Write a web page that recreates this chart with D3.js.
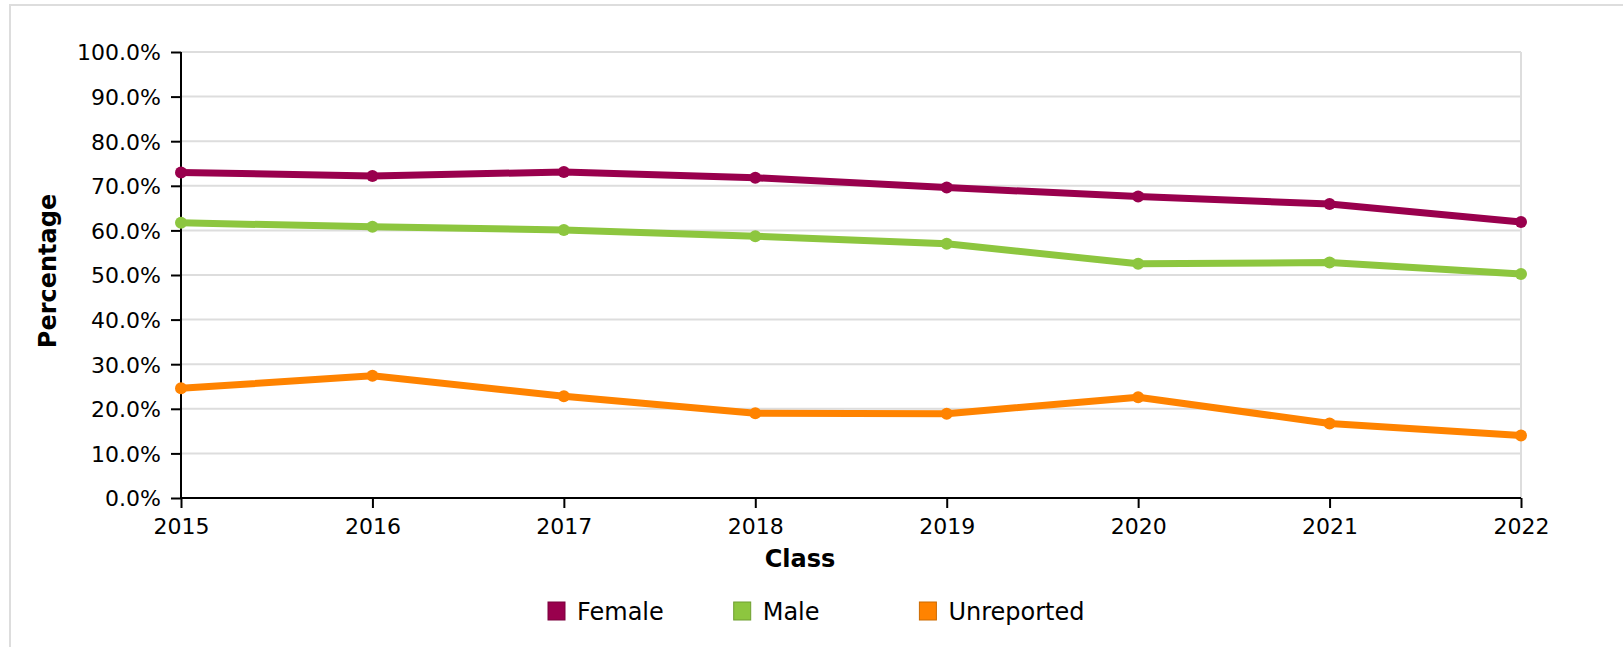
<!DOCTYPE html>
<html>
<head>
<meta charset="utf-8">
<script src="https://cdn.jsdelivr.net/npm/d3@7"></script>
<style>
  body { margin: 0; background: #fff; overflow: hidden; }
  #frame { position: absolute; left: 9px; top: 4px; width: 1650px; height: 700px;
           border: 2px solid #dddddd; box-sizing: border-box; }
  #chart { position: absolute; left: 0; top: 0; }
  text { font-family: "DejaVu Sans", sans-serif; }
</style>
</head>
<body>
<div id="frame"></div>
<div id="chart"></div>
<script>
// chart data
var years = [2015, 2016, 2017, 2018, 2019, 2020, 2021, 2022];
var female = [73.0, 72.2, 73.1, 71.8, 69.6, 67.6, 65.9, 61.9];
var male = [61.7, 60.8, 60.1, 58.7, 57.0, 52.5, 52.8, 50.2];
var unreported = [24.6, 27.4, 22.8, 19.0, 18.9, 22.6, 16.7, 14.0];
var yTicks = [0, 10, 20, 30, 40, 50, 60, 70, 80, 90, 100];

var series = [
  {name: "Female", values: female, color: "#99004d", border: "#7a003d"},
  {name: "Male", values: male, color: "#8dc63f", border: "#6f9f30"},
  {name: "Unreported", values: unreported, color: "#ff8300", border: "#cc6a00"}
];

var margin = {top: 52, left: 181},
    width = 1340,
    height = 446;

var svg = d3.select("#chart")
  .append("svg")
    .attr("width", 1623)
    .attr("height", 647);

var g = svg.append("g")
    .attr("transform", "translate(" + margin.left + "," + margin.top + ")");

var x = d3.scaleLinear()
    .domain([2015, 2022])
    .range([0, width]);

var y = d3.scaleLinear()
    .domain([0, 100])
    .range([height, 0]);

// gridlines
g.selectAll(".grid")
  .data(yTicks.slice(1))
  .enter().append("line")
    .attr("x1", 0)
    .attr("x2", width)
    .attr("y1", function(d) { return y(d); })
    .attr("y2", function(d) { return y(d); })
    .style("stroke", "#dddddd")
    .style("stroke-width", 2);

// right edge line
g.append("line")
    .attr("x1", width).attr("x2", width)
    .attr("y1", 0).attr("y2", height)
    .style("stroke", "#dddddd")
    .style("stroke-width", 2);

// Y axis
var yAxis = g.append("g")
    .call(d3.axisLeft(y).tickValues(yTicks).tickSize(10).tickPadding(10)
      .tickFormat(function(d) { return d.toFixed(1) + "%"; }));

// X axis
var xAxis = g.append("g")
    .attr("transform", "translate(0," + height + ")")
    .call(d3.axisBottom(x).tickValues(years).tickSize(10).tickPadding(10)
      .tickFormat(d3.format("d")));

[xAxis, yAxis].forEach(function(a) {
  a.selectAll("path").style("stroke", "#000").style("stroke-width", 2);
  a.selectAll("line").style("stroke", "#000").style("stroke-width", 2);
  a.selectAll("text")
    .style("font-family", "DejaVu Sans, sans-serif")
    .style("font-size", "22px")
    .style("fill", "#000");
});
yAxis.selectAll("text").attr("dy", "0.36em");
xAxis.select(".domain").attr("d", "M0,0H" + width);
yAxis.select(".domain").attr("d", "M0,0V" + height);

// lines and points
var line = d3.line()
    .x(function(d, i) { return x(years[i]); })
    .y(function(d) { return y(d); });

series.forEach(function(s) {
  g.append("path")
    .datum(s.values)
    .attr("d", line)
    .style("fill", "none")
    .style("stroke", s.color)
    .style("stroke-width", 7)
    .style("stroke-linejoin", "round");

  g.selectAll(".pt-" + s.name)
    .data(s.values)
    .enter().append("circle")
      .attr("cx", function(d, i) { return x(years[i]); })
      .attr("cy", function(d) { return y(d); })
      .attr("r", 6)
      .style("fill", s.color);
});

// X-axis label
svg.append("text")
    .attr("text-anchor", "middle")
    .attr("x", 800)
    .attr("y", 567)
    .style("font-size", "24px")
    .style("font-weight", "bold")
    .text("Class");

// Y-axis label
svg.append("text")
    .attr("text-anchor", "middle")
    .attr("transform", "translate(56,271) rotate(-90)")
    .style("font-size", "24px")
    .style("font-weight", "bold")
    .text("Percentage");

// legend
var legend = svg.selectAll(".legend")
  .data(series)
  .enter().append("g")
    .attr("transform", function(d, i) { return "translate(" + (548 + i * 185.7) + ",602)"; });

legend.append("rect")
    .attr("width", 17)
    .attr("height", 18)
    .style("fill", function(d) { return d.color; })
    .style("stroke", function(d) { return d.border; })
    .style("stroke-width", 1);

legend.append("text")
    .attr("x", 29)
    .attr("y", 18)
    .style("font-size", "24px")
    .text(function(d) { return d.name; });
</script>
</body>
</html>
